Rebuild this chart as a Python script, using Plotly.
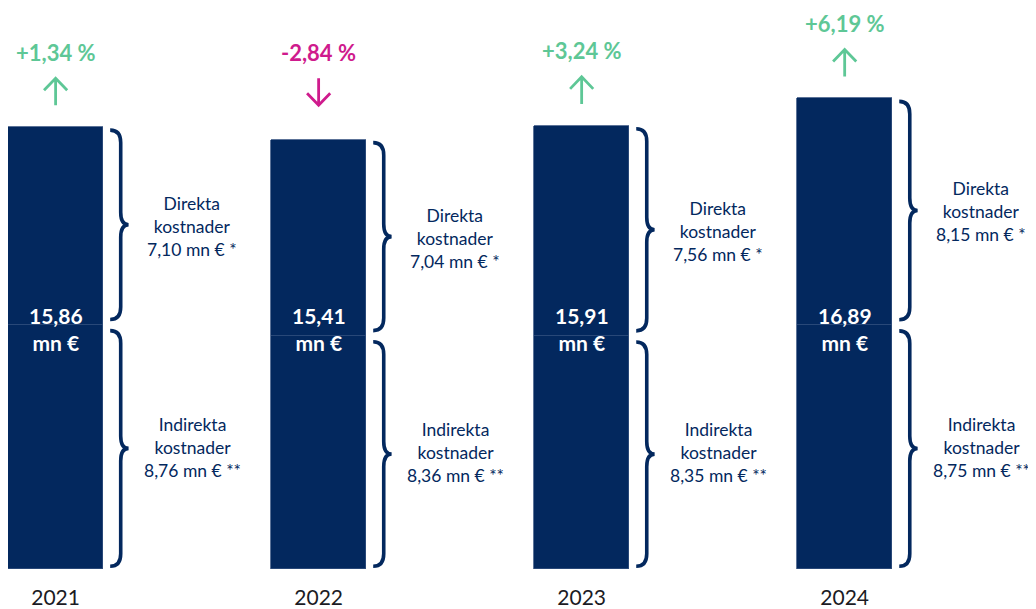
import plotly.graph_objects as go

# Données
years = ["2021", "2022", "2023", "2024"]
direct = [7.10, 7.04, 7.56, 8.15]
indirect = [8.76, 8.36, 8.35, 8.75]
totals = [15.86, 15.41, 15.91, 16.89]
changes = [1.34, -2.84, 3.24, 6.19]

NAVY = "#03285e"
GREEN = "#5ec796"
MAGENTA = "#cf1b8d"
FONT = "Lato"

def fmt(v, plus=False):
    s = f"{v:+.2f}" if plus else f"{v:.2f}"
    return s.replace(".", ",")

x = list(range(len(years)))
bar_w = 0.361

fig = go.Figure()
fig.add_trace(go.Bar(x=x, y=indirect, width=bar_w, marker=dict(color=NAVY, line=dict(color="#33507e", width=0.8)),
                     hoverinfo="skip"))
fig.add_trace(go.Bar(x=x, y=direct, width=bar_w, marker=dict(color=NAVY, line=dict(color="#33507e", width=0.8)),
                     hoverinfo="skip"))

# accolades à droite de chaque segment
def brace(xa, y_top, y_bot):
    xb = xa + 0.04
    xc = xa + 0.07
    r = 0.45
    ym = (y_top + y_bot) / 2
    return (f"M {xa},{y_top} Q {xb},{y_top} {xb},{y_top - r} "
            f"L {xb},{ym + r} Q {xb},{ym} {xc},{ym} "
            f"Q {xb},{ym} {xb},{ym - r} "
            f"L {xb},{y_bot + r} Q {xb},{y_bot} {xa},{y_bot}")

gap = 0.1
for i in x:
    xa = i + bar_w / 2 + 0.027
    fig.add_shape(type="path", xref="x", yref="y", path=brace(xa, totals[i] - gap, indirect[i] + gap * 2),
                  line=dict(color=NAVY, width=3.6))
    fig.add_shape(type="path", xref="x", yref="y", path=brace(xa, indirect[i] - gap * 2, gap),
                  line=dict(color=NAVY, width=3.6))

    # textes des segments
    fig.add_annotation(x=i + 0.52, y=indirect[i] + direct[i] / 2, xref="x", yref="y", showarrow=False,
                       text=f"Direkta<br>kostnader<br>{fmt(direct[i])} mn € *",
                       font=dict(family=FONT, size=17.5, color=NAVY), align="center")
    fig.add_annotation(x=i + 0.52, y=indirect[i] / 2, xref="x", yref="y", showarrow=False,
                       text=f"Indirekta<br>kostnader<br>{fmt(indirect[i])} mn € **",
                       font=dict(family=FONT, size=17.5, color=NAVY), align="center")

    # total dans la barre
    fig.add_annotation(x=i, y=8.62, xref="x", yref="y", showarrow=False,
                       text=f"<b>{fmt(totals[i])}<br>mn €</b>",
                       font=dict(family=FONT, size=21, color="white"), align="center")

    # variation + flèche
    ref = max(totals[i], totals[0])
    col = GREEN if changes[i] >= 0 else MAGENTA
    fig.add_annotation(x=i, y=ref + 2.7, xref="x", yref="y", showarrow=False,
                       text=f"<b>{fmt(changes[i], plus=True)} %</b>",
                       font=dict(family=FONT, size=22, color=col))
    yb, yt = ref + 0.79, ref + 1.76
    hw, hh = 0.044, 0.43
    if changes[i] >= 0:
        p = f"M {i},{yb} L {i},{yt} M {i - hw},{yt - hh} L {i},{yt} L {i + hw},{yt - hh}"
    else:
        p = f"M {i},{yt} L {i},{yb} M {i - hw},{yb + hh} L {i},{yb} L {i + hw},{yb + hh}"
    fig.add_shape(type="path", xref="x", yref="y", path=p, line=dict(color=col, width=2.8))

# la page ajoute une marge de 8 px autour du graphique
fig.update_layout(
    barmode="stack",
    bargap=0,
    showlegend=False,
    width=1028,
    height=601,
    margin=dict(l=0, r=8, t=4, b=40),
    paper_bgcolor="white",
    plot_bgcolor="white",
    xaxis=dict(range=[-0.181, 3.697], tickvals=x, ticktext=years, showgrid=False, zeroline=False,
               showline=False, ticks="", ticklabelstandoff=14,
               tickfont=dict(family=FONT, size=21, color="#1b1b24")),
    yaxis=dict(range=[0, 20], visible=False),
)

fig.write_html("out.html")
